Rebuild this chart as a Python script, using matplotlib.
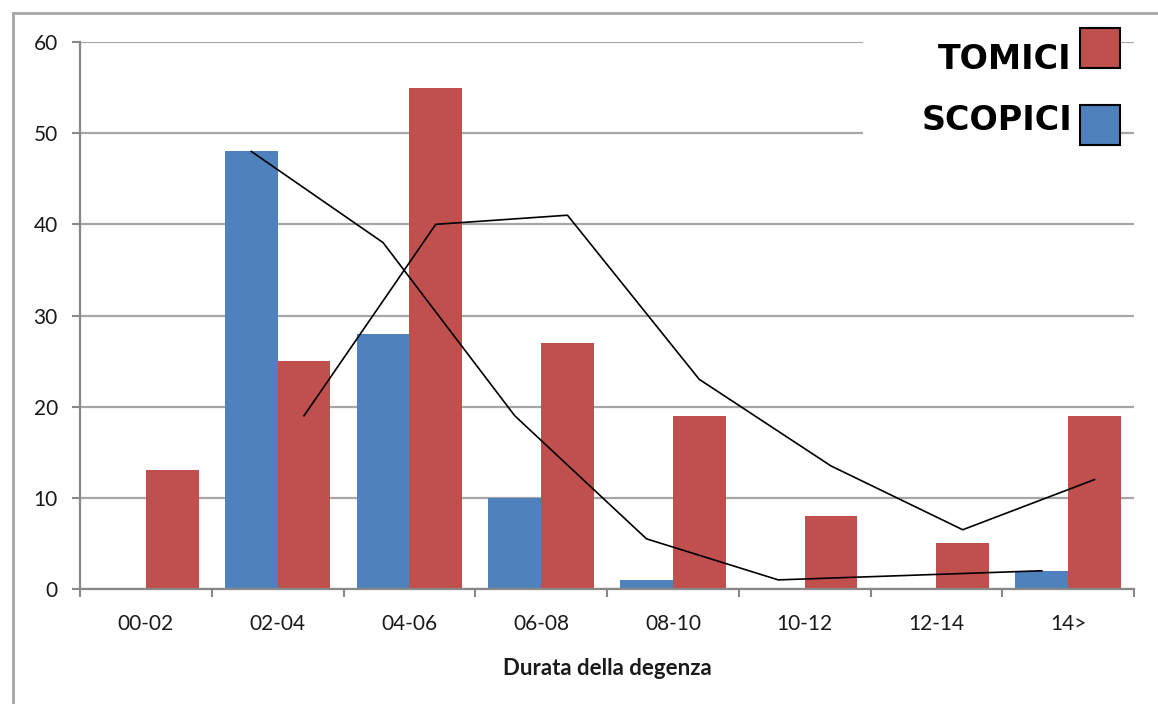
import numpy as np
import matplotlib.pyplot as plt
from matplotlib.patches import Rectangle
from matplotlib.lines import Line2D

categories = ['00-02', '02-04', '04-06', '06-08', '08-10', '10-12', '12-14', '14>']
tomici = [13, 25, 55, 27, 19, 8, 5, 19]
scopici = [0, 48, 28, 10, 1, 0, 0, 2]
# two-period moving averages (blank where a period has no value)
tomici_trend = [np.nan, 19, 40, 41, 23, 13.5, 6.5, 12]
scopici_trend = [np.nan, 48, 38, 19, 5.5, 1, np.nan, 2]
yticks = [0, 10, 20, 30, 40, 50, 60]

RED = '#C0504D'
BLUE = '#4F81BD'
GRID = '#A6A6A6'

W, H = 1158, 704
fig = plt.figure(figsize=(W / 100, H / 100), dpi=100)
fig.patch.set_facecolor('white')
ax = fig.add_axes([80 / W, 1 - 589 / H, (1134 - 80) / W, (589 - 42) / H])

x = np.arange(len(categories))
bw = 0.4
ax.bar(x - bw / 2, scopici, bw, color=BLUE, zorder=2)
ax.bar(x + bw / 2, tomici, bw, color=RED, zorder=2)

st = np.array(scopici_trend, dtype=float)
tt = np.array(tomici_trend, dtype=float)
ms = ~np.isnan(st)
mt = ~np.isnan(tt)
ax.plot((x - bw / 2)[ms], st[ms], color='black', lw=1.2, zorder=3)
ax.plot((x + bw / 2)[mt], tt[mt], color='black', lw=1.2, zorder=3)

ax.set_xlim(-0.5, len(categories) - 0.5)
ax.set_ylim(0, 60)
ax.set_yticks(yticks)
ax.set_xticks(np.arange(len(categories) + 1) - 0.5, minor=False)
ax.set_xticklabels([])
ax.set_xticks(x, minor=True)
ax.set_xticklabels(categories, minor=True)
ax.tick_params(axis='x', which='minor', length=0, pad=18)
ax.tick_params(axis='x', which='major', length=6, width=1.5, color='#888888')
ax.tick_params(axis='y', length=6, width=1.5, color='#888888', pad=10)
for lab in ax.get_xticklabels(minor=True) + ax.get_yticklabels():
    lab.set_fontfamily('Lato')
    lab.set_fontsize(15)
    lab.set_color('#1a1a1a')

ax.set_axisbelow(True)
ax.yaxis.grid(True, color=GRID, lw=1.6)
for s in ['top', 'right']:
    ax.spines[s].set_visible(False)
for s in ['left', 'bottom']:
    ax.spines[s].set_color('#888888')
    ax.spines[s].set_linewidth(1.6)

ax.set_xlabel('Durata della degenza', fontfamily='Lato', fontweight='bold',
              fontsize=16, color='#1a1a1a', labelpad=17)

# white block behind the legend hides the upper gridlines
to_data = ax.transData.inverted()
(x0, y0) = to_data.transform((863, H - 148))
(x1, y1) = to_data.transform((1120, H - 26))
ax.add_patch(Rectangle((x0, y0), x1 - x0, y1 - y0, facecolor='white',
                       edgecolor='none', zorder=1, clip_on=False))

# legend entries: box top, text baseline (pixels from top)
for label, color, ytop, ybase in [('TOMICI', RED, 28, 69), ('SCOPICI', BLUE, 105, 130)]:
    fig.add_artist(Rectangle((1080 / W, 1 - (ytop + 40) / H), 40 / W, 40 / H,
                             facecolor=color, edgecolor='black', lw=1.5))
    fig.text(1072 / W, 1 - ybase / H, label, ha='right', va='baseline',
             fontfamily='DejaVu Sans', fontweight='bold', fontsize=24, color='black')

# outer chart frame
fig.add_artist(Line2D([13 / W, 13 / W], [0, 1 - 13 / H], color=GRID, lw=2))
fig.add_artist(Line2D([13 / W, 1], [1 - 13 / H, 1 - 13 / H], color=GRID, lw=2))

fig.savefig('out.png', dpi=100)
